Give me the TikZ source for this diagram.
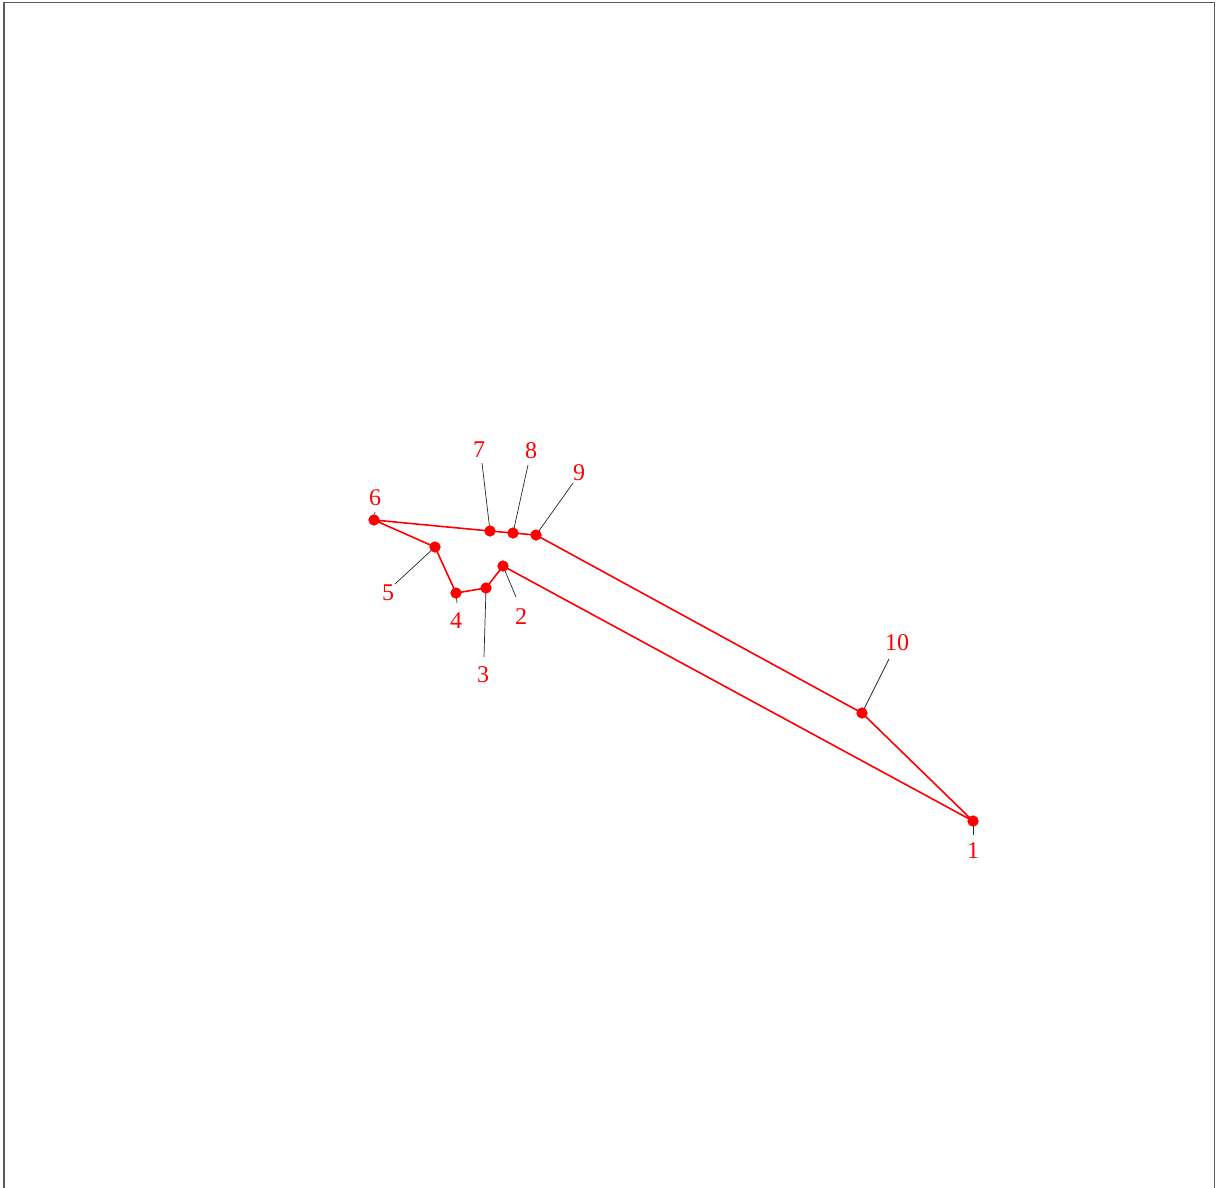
\documentclass[tikz,border=0pt]{standalone}
\usepackage{fontspec}
\setmainfont{Liberation Serif}
\begin{document}
\begin{tikzpicture}[x=1pt,y=-1pt,
  pt/.style={circle,fill=red,inner sep=0pt,minimum size=11pt},
  lbl/.style={text=red,font=\fontsize{24}{26}\selectfont,inner sep=0pt},
  edge/.style={red,line width=1.6pt},
  leader/.style={black!85,line width=0.7pt}]
\useasboundingbox (0,0) rectangle (1224,1187);
\draw[gray!70!black,line width=1.3pt] (4,1190) -- (4,2.5) -- (1214.5,2.5) -- (1214.5,1190);
% points
\node[pt] (p1) at (973,821) {};
\node[pt] (p2) at (503,566) {};
\node[pt] (p3) at (486,588) {};
\node[pt] (p4) at (456,593) {};
\node[pt] (p5) at (435,547) {};
\node[pt] (p6) at (374,520) {};
\node[pt] (p7) at (490,531) {};
\node[pt] (p8) at (513,533) {};
\node[pt] (p9) at (536,535) {};
\node[pt] (p10) at (862,713) {};
% leader ends
\coordinate (e1) at (973,835);
\coordinate (e2) at (516,597);
\coordinate (e3) at (484,657);
\coordinate (e4) at (457,603);
\coordinate (e5) at (395,584);
\coordinate (e6) at (375,512);
\coordinate (e7) at (482,463);
\coordinate (e8) at (528,465);
\coordinate (e9) at (573,483);
\coordinate (e10) at (889,659);
\foreach \i in {1,...,10} {\draw[leader] (p\i.center) -- (e\i);}
% labels
\node[lbl] (l1) at (973,851) {1};
\node[lbl] (l2) at (521,617) {2};
\node[lbl] (l3) at (483,675) {3};
\node[lbl] (l4) at (456,621) {4};
\node[lbl] (l5) at (388,593) {5};
\node[lbl] (l6) at (375,498) {6};
\node[lbl] (l7) at (479,450) {7};
\node[lbl] (l8) at (531,451) {8};
\node[lbl] (l9) at (579,473) {9};
\node[lbl] (l10) at (897,643) {10};
% polygon
\draw[edge] (p1.center) -- (p2.center) -- (p3.center) -- (p4.center) -- (p5.center) -- (p6.center) -- (p7.center) -- (p8.center) -- (p9.center) -- (p10.center) -- cycle;
\foreach \i in {1,...,10} {\fill[red] (p\i) circle (5.5pt);}
\end{tikzpicture}
\end{document}
